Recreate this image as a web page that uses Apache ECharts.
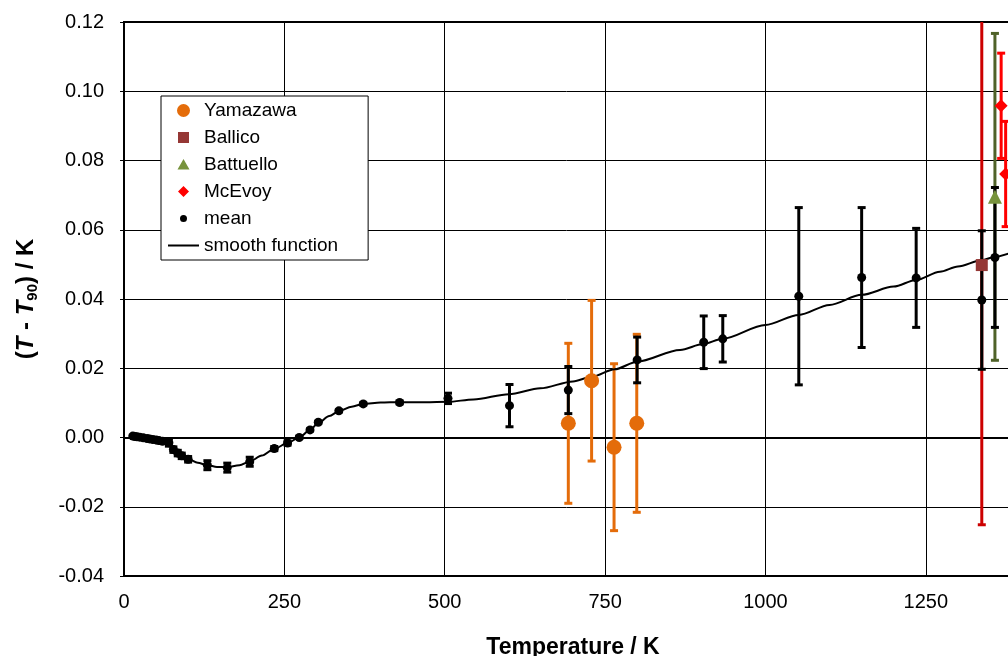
<!DOCTYPE html>
<html><head><meta charset="utf-8">
<script src="https://cdn.jsdelivr.net/npm/echarts@6/dist/echarts.min.js"></script>
<style>html,body{margin:0;padding:0;background:#fff}#c{width:1008px;height:656px}</style>
</head><body><div id="c"></div>
<script>
// ---- data ----
const meanT = [13.8,17.0,20.3,24.6,30.0,36.0,40.0,45.0,50.0,54.4,60.0,70.0,77.0,83.8,90.0,100.0,130.0,161.0,196.0,234.3,255.0,273.2,290.0,302.9,335.0,373.0,429.7,505.1,601.0,692.7,800.0,903.8,933.5,1052.0,1150.0,1235.0,1337.3,1357.8];
const meanV = [0.0004,0.0003,0.0002,0.0001,-0.0001,-0.0003,-0.0004,-0.0006,-0.0007,-0.0009,-0.0011,-0.0015,-0.0035,-0.0045,-0.0053,-0.0063,-0.0080,-0.0087,-0.0070,-0.0032,-0.0016,0.0000,0.0022,0.0044,0.0077,0.0097,0.0101,0.0113,0.0092,0.0137,0.0224,0.0275,0.0285,0.0408,0.0462,0.0461,0.0397,0.0520];
const meanErr = [0.0003,0.0003,0.0003,0.0003,0.0004,0.0004,0.0004,0.0005,0.0005,0.0006,0.0006,0.0010,0.0008,0.0008,0.0008,0.0008,0.0013,0.0013,0.0013,0.0006,0.0006,0.0003,0.0003,0.0003,0.0003,0.0003,0.0004,0.0015,0.0061,0.0068,0.0066,0.0076,0.0067,0.0256,0.0202,0.0143,0.0200,0.0202];

const yamT = [692.7, 729.0, 764.0, 799.4];
const yamV = [0.0041, 0.0164, -0.0028, 0.0041];
const yamErr = [0.0231, 0.0232, 0.0241, 0.0257];

const ballicoT = [1337.3];
const ballicoV = [0.0498];
const ballicoErr = [0.0750];

const battT = [1357.8];
const battV = [0.0695];
const battErr = [0.0472];

const mcT = [1367.5, 1374.5];
const mcV = [0.0958, 0.0761];
const mcErr = [0.0152, 0.0152];

const smoothT = [13.8,25,40,55,65,72,80,90,100,115,130,145,160,180,196,215,234,255,273,290,303,320,335,355,373,400,430,470,505,545,600,649,700,730,765,800,867,903,933,1000,1052,1100,1150,1200,1235,1272,1300,1337,1358,1380];
const smoothV = [0.0004,0.0001,-0.0004,-0.0009,-0.0013,-0.0022,-0.0040,-0.0053,-0.0062,-0.0073,-0.0080,-0.0085,-0.0086,-0.0080,-0.0069,-0.0052,-0.0033,-0.0016,0.0000,0.0022,0.0042,0.0062,0.0076,0.0089,0.0097,0.0101,0.0102,0.0102,0.0103,0.0110,0.0125,0.0142,0.0162,0.0176,0.0197,0.0219,0.0253,0.0270,0.0285,0.0325,0.0354,0.0383,0.0412,0.0436,0.0455,0.0479,0.0494,0.0512,0.0522,0.0532];

const xMin = 0, xMax = 1400, xStep = 250;
const yMin = -0.04, yMax = 0.12, yStep = 0.02;

// ---- chart ----
const FONT = '"Liberation Sans", Arial, sans-serif';
const chart = echarts.init(document.getElementById('c'), null, {renderer: 'canvas'});

function errSeries(T, V, E, color, width, cap, z) {
  return {
    type: 'custom', z: z, clip: true, silent: true,
    data: T.map((t, i) => [t, V[i] - E[i], V[i] + E[i]]),
    encode: {x: 0, y: [1, 2]},
    renderItem: function (params, api) {
      const lo = api.coord([api.value(0), api.value(1)]);
      const hi = api.coord([api.value(0), api.value(2)]);
      const st = {stroke: color, lineWidth: width};
      return {type: 'group', children: [
        {type: 'line', shape: {x1: lo[0], y1: lo[1], x2: hi[0], y2: hi[1]}, style: st},
        {type: 'line', shape: {x1: lo[0] - cap, y1: lo[1], x2: lo[0] + cap, y2: lo[1]}, style: st},
        {type: 'line', shape: {x1: hi[0] - cap, y1: hi[1], x2: hi[0] + cap, y2: hi[1]}, style: st}
      ]};
    }
  };
}
const pairs = (T, V) => T.map((t, i) => [t, V[i]]);

const COL = {yam: '#E46C0A', ballico: '#953735', ballicoBar: '#CC0000', batt: '#77933C', battBar: '#4F6228', mc: '#FF0000'};

// legend icons drawn in a 31x14 box (corner points fix the box so sizes are kept)
const BOX = 'M0,0L0,0.01M31,14L31,13.99';
const ICON = {
  yam: 'path://' + BOX + 'M22,7A6.5,6.5,0,1,1,9,7A6.5,6.5,0,1,1,22,7Z',
  ballico: 'path://' + BOX + 'M10,1.5L21,1.5L21,12.5L10,12.5Z',
  batt: 'path://' + BOX + 'M15.5,1.5L21.5,12L9.5,12Z',
  mc: 'path://' + BOX + 'M15.5,1.5L21,7L15.5,12.5L10,7Z',
  mean: 'path://' + BOX + 'M19,7A3.5,3.5,0,1,1,12,7A3.5,3.5,0,1,1,19,7Z',
  line: 'path://' + BOX + 'M0,6.1L31,6.1L31,7.9L0,7.9Z'
};

chart.setOption({
  animation: false,
  backgroundColor: '#fff',
  grid: {left: 124, top: 22, width: 898, height: 554, outerBoundsMode: 'none', containLabel: false,
    show: true, borderColor: '#000', borderWidth: 2, backgroundColor: 'transparent'},
  xAxis: {
    type: 'value', min: xMin, max: xMax, interval: xStep,
    name: 'Temperature / K', nameLocation: 'middle', nameGap: 60,
    nameTextStyle: {fontFamily: FONT, fontWeight: 'bold', fontSize: 23, color: '#000'},
    axisLine: {show: true, lineStyle: {color: '#000', width: 2}},
    axisTick: {show: true, inside: false, length: 4, lineStyle: {color: '#000', width: 1}},
    axisLabel: {fontFamily: FONT, fontSize: 20, color: '#000', margin: 16, showMaxLabel: false, formatter: v => String(v)},
    splitLine: {show: true, lineStyle: {color: '#000', width: 1}}
  },
  yAxis: {
    type: 'value', min: yMin, max: yMax, interval: yStep,
    name: '{a|(}{i|T}{a| - }{i|T}{s|90}{a|) / K}',
    nameLocation: 'middle', nameRotate: 90, nameGap: 84,
    nameTextStyle: {
      fontFamily: FONT, fontWeight: 'bold', fontSize: 24, color: '#000',
      rich: {
        a: {fontFamily: FONT, fontWeight: 'bold', fontSize: 24, color: '#000', lineHeight: 28},
        i: {fontFamily: FONT, fontWeight: 'bold', fontStyle: 'italic', fontSize: 24, color: '#000', lineHeight: 28},
        s: {fontFamily: FONT, fontWeight: 'bold', fontSize: 15, color: '#000', lineHeight: 16, verticalAlign: 'bottom'}
      }
    },
    axisLine: {show: true, lineStyle: {color: '#000', width: 2}},
    axisTick: {show: true, inside: false, length: 4, lineStyle: {color: '#000', width: 1}},
    axisLabel: {fontFamily: FONT, fontSize: 20, color: '#000', margin: 20,
      formatter: v => (Math.abs(v) < 1e-9 ? 0 : v).toFixed(2)},
    splitLine: {show: true, lineStyle: {color: '#000', width: 1}}
  },
  legend: {
    left: 161, top: 96, orient: 'vertical', symbolKeepAspect: true,
    padding: [5, 30, 5, 7], itemGap: 8, itemWidth: 31, itemHeight: 14, itemTextGap: 5,
    backgroundColor: '#fff', borderColor: '#000', borderWidth: 1,
    textStyle: {fontFamily: FONT, fontSize: 19, color: '#000'},
    data: [
      {name: 'Yamazawa', icon: ICON.yam},
      {name: 'Ballico', icon: ICON.ballico},
      {name: 'Battuello', icon: ICON.batt},
      {name: 'McEvoy', icon: ICON.mc},
      {name: 'mean', icon: ICON.mean},
      {name: 'smooth function', icon: ICON.line}
    ]
  },
  series: [
    errSeries(yamT, yamV, yamErr, COL.yam, 3, 4, 1),
    errSeries(ballicoT, ballicoV, ballicoErr, COL.ballicoBar, 3, 4, 1),
    errSeries(battT, battV, battErr, COL.battBar, 3, 4, 1),
    errSeries(mcT, mcV, mcErr, COL.mc, 3, 4, 1),
    {name: 'smooth function', type: 'line', z: 2, data: pairs(smoothT, smoothV), symbol: 'none', showSymbol: false,
      smooth: 0.3, smoothMonotone: 'x', lineStyle: {color: '#000', width: 2}, itemStyle: {color: '#000', opacity: 1}},
    errSeries(meanT, meanV, meanErr, '#000', 3, 4, 3),
    {name: 'mean', type: 'scatter', z: 4, data: pairs(meanT, meanV), symbol: 'circle', symbolSize: 9, itemStyle: {color: '#000', opacity: 1}},
    {name: 'Yamazawa', type: 'scatter', z: 5, data: pairs(yamT, yamV), symbol: 'circle', symbolSize: 15, itemStyle: {color: COL.yam, opacity: 1}},
    {name: 'Ballico', type: 'scatter', z: 5, data: pairs(ballicoT, ballicoV), symbol: 'rect', symbolSize: 12, itemStyle: {color: COL.ballico, opacity: 1}},
    {name: 'Battuello', type: 'scatter', z: 5, data: pairs(battT, battV), symbol: 'triangle', symbolSize: 14, itemStyle: {color: COL.batt, opacity: 1}},
    {name: 'McEvoy', type: 'scatter', z: 5, data: pairs(mcT, mcV), symbol: 'diamond', symbolSize: 13, itemStyle: {color: COL.mc, opacity: 1}}
  ]
});
</script>
</body></html>
